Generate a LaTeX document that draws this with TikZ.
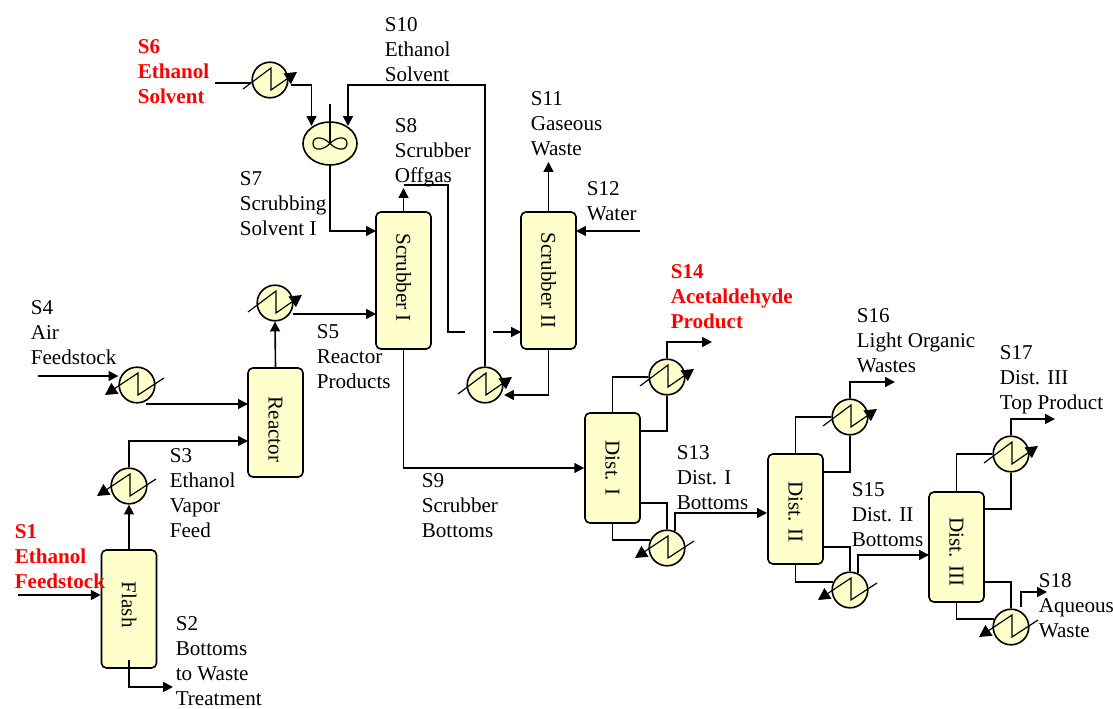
\documentclass[tikz,border=0pt]{standalone}
\usepackage{fontspec}
\setmainfont{Liberation Serif}
\usepackage{tikz}
\usetikzlibrary{arrows.meta,shapes.geometric}
\definecolor{cunit}{HTML}{FFFFCC}
\definecolor{cfeed}{HTML}{FF0000}
\newcommand{\coltxt}[2][0pt]{\rotatebox{-90}{\kern#1 #2}}

\begin{document}
\begin{tikzpicture}[x=0.025cm, y=-0.025cm, line width=1.15pt,
                    font=\fontsize{15}{17.8}\selectfont,
                    strm/.style={-{Triangle[length=7pt,width=7pt]}},
                    unit/.style={draw, fill=cunit, rounded corners=3.5pt, inner sep=0pt, minimum width=1.375cm},
                    hx/.style={draw, circle, fill=cunit, inner sep=0pt, minimum size=0.89cm},
                    util/.style={line width=0.85pt},
                    lbl/.style={anchor=north west, align=left, inner sep=0pt},
                    lblfeed/.style={lbl, text=cfeed, font=\fontsize{15}{17.8}\selectfont\bfseries}]
  \useasboundingbox (0,0) rectangle (1113,709);
  % zigzag of an exchanger: utility leaves upper right (\hxhot) or lower left (\hxcold)
  \def\hxhot#1{\draw[util,-{Triangle[length=8.5pt,width=9pt]},shift={(#1)}] (-27,9) -- (1,-12) -- (1,10) -- (27,-8);}
  \def\hxcold#1{\draw[util,{Triangle[length=8.5pt,width=9pt]}-,shift={(#1)}] (-32,10) -- (1,-12) -- (1,10) -- (27,-7);}
  % columns and vessels
  \node[unit, minimum height=2.95cm]  (flash)   at (129,609)     {\coltxt[-6pt]{Flash}};
  \node[unit, minimum height=2.725cm] (reactor) at (275.5,422.5) {\coltxt[10pt]{Reactor}};
  \node[unit, minimum height=3.425cm] (scrubA)  at (403.5,280.5) {\coltxt[-4pt]{Scrubber I}};
  \node[unit, minimum height=3.425cm] (scrubB)  at (548.5,280.5) {\coltxt{Scrubber II}};
  \node[unit, minimum height=2.75cm]  (distA)   at (612.5,468)   {\coltxt{Dist. I}};
  \node[unit, minimum height=2.75cm]  (distB)   at (795.5,509)   {\coltxt[4pt]{Dist. II}};
  \node[unit, minimum height=2.75cm]  (distC)   at (956.5,547)   {\coltxt[7pt]{Dist. III}};
  \node[draw, ellipse, fill=cunit, inner sep=0pt, minimum width=1.35cm, minimum height=1.075cm] (mixer) at (330,143.5) {};
  % exchangers
  \node[hx] (hxsol)  at (270,80)   {};
  \node[hx] (hxrct)  at (275,303)  {};
  \node[hx] (hxair)  at (137,385)  {};
  \node[hx] (hxfeed) at (129,486)  {};
  \node[hx] (hxwash) at (485,385)  {};
  \node[hx] (hxcA)   at (667,377)  {};
  \node[hx] (hxrA)   at (667,548)  {};
  \node[hx] (hxcB)   at (850,417)  {};
  \node[hx] (hxrB)   at (850,590)  {};
  \node[hx] (hxcC)   at (1011,454) {};
  \node[hx] (hxrC)   at (1011,627) {};
  \hxhot{hxsol} \hxhot{hxrct} \hxhot{hxwash} \hxhot{hxcA} \hxhot{hxcB} \hxhot{hxcC}
  \hxcold{hxair} \hxcold{hxfeed} \hxcold{hxrA} \hxcold{hxrB} \hxcold{hxrC}
  % impeller
  \draw[util] (mixer.center) -- +(0,-39);
  \draw[util,shift={(mixer.center)}] (0,0) .. controls (-8,-8) and (-17,-7) .. (-17,0) .. controls (-17,7) and (-8,8) .. (0,0)
    .. controls (8,-8) and (17,-7) .. (17,0) .. controls (17,7) and (8,8) .. (0,0);
  % free ends and side ports
  \coordinate (solin)   at (215,83);
  \coordinate (solout)  at (291,85);
  \coordinate (mixinA)  at (311.5,126);
  \coordinate (mixinB)  at (348,126);
  \coordinate (washtop) at (348,85);
  \coordinate (scrAsol) at (376,231);
  \coordinate (scrArct) at (376,314);
  \coordinate (rctout)  at (293,314);
  \coordinate (offtip)  at (403.5,188);
  \coordinate (offend)  at (403.5,185);
  \coordinate (offbend) at (448,185);
  \coordinate (offcut)  at (465,332);
  \coordinate (offjoin) at (493,332);
  \coordinate (scrBin)  at (521,332);
  \coordinate (wastip)  at (548.5,162);
  \coordinate (watin)   at (640,231);
  \coordinate (scrBwat) at (576,231);
  \coordinate (washin)  at (504,395);
  \coordinate (airin)   at (38,376);
  \coordinate (airout)  at (146,404);
  \coordinate (rctair)  at (248,404);
  \coordinate (rctfeed) at (248,441);
  \coordinate (feedin)  at (18,595);
  \coordinate (flashdn) at (129,660);
  \coordinate (wasteA)  at (173,687);
  \coordinate (topA)    at (640,431);
  \coordinate (prodA)   at (712,342);
  \coordinate (botA)    at (640,503);
  \coordinate (rboutA)  at (675,531);
  \coordinate (distBin) at (767,513);
  \coordinate (topB)    at (823,472);
  \coordinate (prodB)   at (895,382);
  \coordinate (botB)    at (823,547);
  \coordinate (rboutB)  at (858,573);
  \coordinate (distCin) at (929,555);
  \coordinate (topC)    at (984,509);
  \coordinate (prodC)   at (1055,419);
  \coordinate (botC)    at (984,582);
  \coordinate (rboutC)  at (1021,607);
  \coordinate (prodD)   at (1047,592);
  % streams, left part
  \draw[strm] (feedin) -- (feedin -| flash.west);
  \draw[strm] (flashdn) |- (wasteA);
  \draw[strm] (flash.north) -- (hxfeed.south);
  \draw[strm] (hxfeed.north) |- (rctfeed);
  \draw[strm] (airin) -- (airin -| hxair.west);
  \draw[strm] (airout) -- (rctair);
  \draw[strm] (reactor.north) -- (hxrct.south);
  \draw[strm] (rctout) -- (scrArct);
  % streams, scrubbers
  \draw (solin) -- (solin -| hxsol.west);
  \draw[strm] (solout) -| (mixinA);
  \draw[strm] (hxwash.north) |- (washtop) -- (mixinB);
  \draw[strm] (mixer.south) |- (scrAsol);
  \draw[strm] (scrubA.north) -- (offtip);
  \draw (offend) -- (offbend) |- (offcut);
  \draw[strm] (offjoin) -- (scrBin);
  \draw[strm] (scrubB.north) -- (wastip);
  \draw[strm] (watin) -- (scrBwat);
  \draw[strm] (scrubB.south) |- (washin);
  \draw[strm] (scrubA.south) |- (distA.west);
  % streams, distillation train
  \draw (distA.north) |- (hxcA.west);
  \draw (topA) -| (hxcA.south);
  \draw[strm] (hxcA.north) |- (prodA);
  \draw (botA) -| (hxrA.north);
  \draw (distA.south) |- (hxrA.155);
  \draw[strm] (rboutA) |- (distBin);
  \draw (distB.north) |- (hxcB.west);
  \draw (topB) -| (hxcB.south);
  \draw[strm] (hxcB.north) |- (prodB);
  \draw (botB) -| (hxrB.north);
  \draw (distB.south) |- (hxrB.155);
  \draw[strm] (rboutB) |- (distCin);
  \draw (distC.north) |- (hxcC.west);
  \draw (topC) -| (hxcC.south);
  \draw[strm] (hxcC.north) |- (prodC);
  \draw (botC) -| (hxrC.north);
  \draw (distC.south) |- (hxrC.155);
  \draw[strm] (rboutC) |- (prodD);
  % stream labels
  \node[lblfeed] (sA) at (14,524)  {S1\\Ethanol\\Feedstock};
  \node[lbl] (sB) at (175,616)  {S2\\Bottoms\\to Waste\\Treatment};
  \node[lbl] (sC) at (169,448)  {S3\\Ethanol\\Vapor\\Feed};
  \node[lbl] (sD) at (30,300)   {S4\\Air\\Feedstock};
  \node[lbl] (sE) at (316,324)  {S5\\Reactor\\Products};
  \node[lblfeed] (sF) at (137,39) {S6\\Ethanol\\Solvent};
  \node[lbl] (sG) at (239,171)  {S7\\Scrubbing\\Solvent I};
  \node[lbl] (sH) at (394,118)  {S8\\Scrubber\\Offgas};
  \node[lbl] (sI) at (421,473)  {S9\\Scrubber\\Bottoms};
  \node[lbl] (sJ) at (384,17)   {S10\\Ethanol\\Solvent};
  \node[lbl] (sK) at (530,91)   {S11\\Gaseous\\Waste};
  \node[lbl] (sL) at (586,181)  {S12\\Water};
  \node[lbl] (sM) at (676,445)  {S13\\Dist. I\\Bottoms};
  \node[lblfeed] (sN) at (670,264) {S14\\Acetaldehyde\\Product};
  \node[lbl] (sO) at (851,482)  {S15\\Dist. II\\Bottoms};
  \node[lbl] (sP) at (856,308)  {S16\\Light Organic\\Wastes};
  \node[lbl] (sQ) at (999,345)  {S17\\Dist. III\\Top Product};
  \node[lbl] (sR) at (1038,573) {S18\\Aqueous\\Waste};
\end{tikzpicture}
\end{document}
